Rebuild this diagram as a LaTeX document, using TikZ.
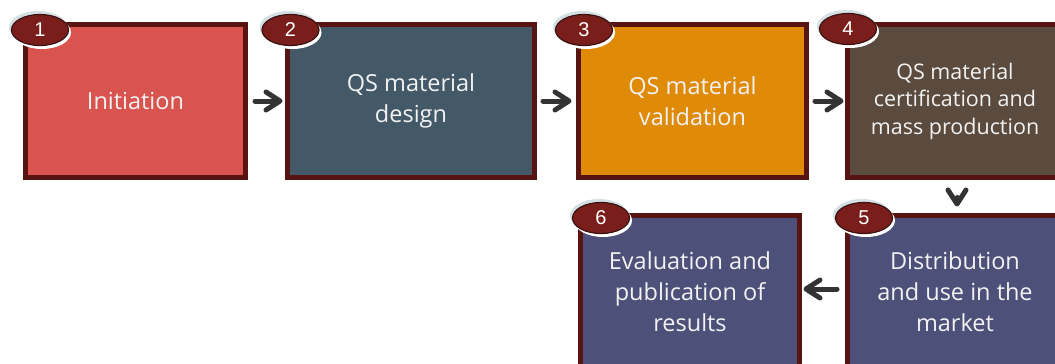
\documentclass[tikz,border=0pt]{standalone}
\usepackage{fontspec}
\setmainfont{Open Sans}
\newfontfamily\numfont{Liberation Sans}
\usetikzlibrary{arrows.meta,shapes.geometric}
\definecolor{cone}{HTML}{D9544F}
\definecolor{ctwo}{HTML}{435967}
\definecolor{cthree}{HTML}{E08B08}
\definecolor{cfour}{HTML}{5A4B3E}
\definecolor{cfive}{HTML}{4D517A}
\definecolor{bordc}{HTML}{581410}
\definecolor{badgec}{HTML}{7A1E1B}
\definecolor{badgeedge}{HTML}{3A1212}
\definecolor{glowc}{HTML}{D5E0E4}
\definecolor{arrc}{HTML}{333333}
\definecolor{txtc}{HTML}{F2F2F2}
\begin{document}
\begin{tikzpicture}[x=1pt,y=-1pt,
  box/.style={draw=bordc, line width=5pt, outer sep=0pt, inner sep=0pt,
    text=txtc, align=center, minimum height=153pt,
    font=\fontsize{23.5}{31}\selectfont},
  smalltext/.style={font=\fontsize{21.5}{27.5}\selectfont},
  badge/.style={ellipse, draw=badgeedge, line width=1.2pt, fill=badgec,
    minimum width=57pt, minimum height=31pt, inner sep=0pt, text=white,
    font=\numfont\fontsize{20}{20}\selectfont},
  glow/.style={fill=glowc},
  rim/.style={fill=white},
  arr/.style={draw=arrc, line width=5pt, line cap=round,
    -{Straight Barb[length=14pt,width=18pt,round]}}
]
\useasboundingbox (0,0) rectangle (1055,364);
\clip (0,0) rectangle (1055,364);
\fill[white] (0,0) rectangle (1055,364);

% boxes
\node[box, fill=cone,   minimum width=220pt] (b1) at (135.5,101) {Initiation};
\node[box, fill=ctwo,   minimum width=247pt] (b2) at (411,101) {QS material\\design};
\node[box, fill=cthree, minimum width=228pt] (b3) at (692.5,101) {QS material\\validation};
\node[box, fill=cfour,  minimum width=215pt, smalltext] (b4) at (955,101) {QS material\\certification and\\mass production};
\node[box, fill=cfive,  minimum width=215pt] (b5) at (955,292) {Distribution\\and use in the\\market};
\node[box, fill=cfive,  minimum width=219pt] (b6) at (690,292) {Evaluation and\\publication of\\results};

% connectors
\draw[arr, shorten <=9.5pt, shorten >=5pt] (b1.east) -- (b2.west);
\draw[arr, shorten <=8.5pt, shorten >=7pt] (b2.east) -- (b3.west);
\draw[arr, shorten <=8.5pt, shorten >=4pt] (b3.east) -- (b4.west);
\draw[arr, shorten <=20pt, shorten >=9pt] ([xshift=2pt]b4.south) -- ([xshift=2pt]b5.north);
\draw[arr, shorten <=10.5pt, shorten >=4pt] ([yshift=3pt]b5.west) -- ([yshift=3pt]b6.east);

% badges
\foreach \n/\x/\y in {1/40/30, 2/290.5/30, 3/584/30, 4/848/29, 5/864/218, 6/601/218}{
  \fill[glow] (\x-2,\y-2.5) ellipse (29 and 16.5);
  \fill[rim] (\x+2,\y+2.5) ellipse (29 and 16.5);
  \node[badge] (n\n) at (\x,\y) {\n};
}
\end{tikzpicture}
\end{document}
